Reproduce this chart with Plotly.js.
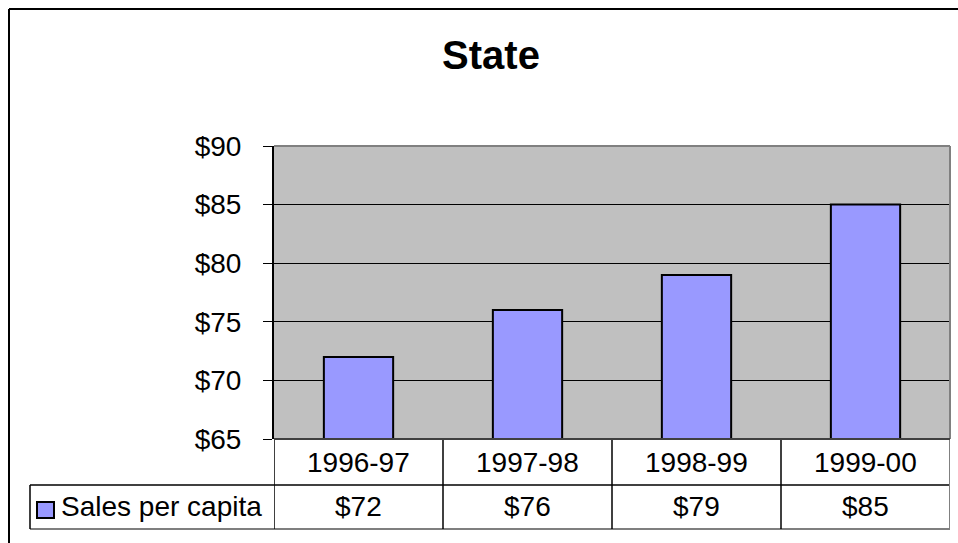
<!DOCTYPE html>
<html>
<head>
<meta charset="utf-8">
<script src="https://cdn.plot.ly/plotly-3.0.1.min.js"></script>
<style>
html,body{margin:0;padding:0;background:#fff;}
#chart{width:958px;height:543px;}
</style>
</head>
<body>
<div id="chart"></div>
<script>
const chartTitle = "State";
const seriesName = "Sales per capita";
const categories = ["1996-97", "1997-98", "1998-99", "1999-00"];
const salesPerCapita = [72, 76, 79, 85];
const yTickValues = [65, 70, 75, 80, 85, 90];

const FONT = "Liberation Sans, Arial, sans-serif";
const FS = 28;
const W = 958, H = 543;
const M = {l: 274, r: 8, t: 146, b: 104};
const PW = W - M.l - M.r, PH = H - M.t - M.b;
// pixel -> paper helpers (layout geometry only)
const px = x => (x - M.l) / PW;
const py = y => (H - M.b - y) / PH;

const trace = {
  type: "bar",
  x: categories,
  y: salesPerCapita,
  name: seriesName,
  width: 0.41,
  marker: {color: "#9999FF", line: {color: "#000000", width: 2}},
  hoverinfo: "skip",
  showlegend: false
};

const annotations = [];
categories.forEach((c, i) => {
  annotations.push({x: c, xref: "x", y: py(462), yref: "paper", text: c, showarrow: false,
    xanchor: "center", yanchor: "middle", font: {family: FONT, size: FS, color: "#000"}});
  annotations.push({x: c, xref: "x", y: py(507), yref: "paper", text: "$" + salesPerCapita[i], showarrow: false,
    xanchor: "center", yanchor: "middle", font: {family: FONT, size: FS, color: "#000"}});
});
annotations.push({x: px(59), xref: "paper", y: py(507), yref: "paper", text: seriesName, showarrow: false,
  xanchor: "left", yanchor: "middle", font: {family: FONT, size: FS, color: "#000"}});

const shapes = [];
const blk = {color: "#000000", width: 1.5};
// table horizontal lines
shapes.push({type: "line", xref: "paper", yref: "paper", x0: px(30), x1: 1, y0: py(485), y1: py(485), line: blk});
shapes.push({type: "line", xref: "paper", yref: "paper", x0: px(30), x1: 1, y0: py(529), y1: py(529), line: {color: "#555", width: 1.5}});
shapes.push({type: "line", xref: "paper", yref: "paper", x0: px(30), x1: px(30), y0: py(485), y1: py(529), line: blk});
// column boundaries at category edges
for (let i = 0; i <= categories.length; i++) {
  const xb = i - 0.5;
  shapes.push({type: "line", xref: "x", yref: "paper", x0: xb, x1: xb, y0: 0, y1: py(529),
    line: i === categories.length ? {color: "#808080", width: 2} : blk});
}
// plot area border (gray)
shapes.push({type: "line", xref: "paper", yref: "paper", x0: 0, x1: 1, y0: 1, y1: 1, line: {color: "#808080", width: 2}});
shapes.push({type: "line", xref: "paper", yref: "paper", x0: 1, x1: 1, y0: 0, y1: 1, line: {color: "#808080", width: 2}});
shapes.push({type: "line", xref: "paper", yref: "paper", x0: 0, x1: 1, y0: 0, y1: 0, line: {color: "#404040", width: 2}});
// legend key
shapes.push({type: "rect", xref: "paper", yref: "paper", x0: px(37), x1: px(54), y0: py(502), y1: py(518),
  fillcolor: "#9999FF", line: {color: "#000", width: 2}});
// outer chart border (left and top)
shapes.push({type: "line", xref: "paper", yref: "paper", x0: px(9), x1: px(9), y0: py(9), y1: py(545), line: {color: "#000", width: 2}});
shapes.push({type: "line", xref: "paper", yref: "paper", x0: px(9), x1: px(960), y0: py(9), y1: py(9), line: {color: "#000", width: 2}});

const layout = {
  width: W, height: H,
  margin: M,
  paper_bgcolor: "#ffffff",
  plot_bgcolor: "#C0C0C0",
  title: {text: "<b>" + chartTitle + "</b>", x: 491 / W, xref: "container", xanchor: "center",
    y: 1 - 55 / H, yref: "container", yanchor: "middle",
    font: {family: FONT, size: 40, color: "#000"}},
  xaxis: {type: "category", showticklabels: false, ticks: "", showgrid: false, zeroline: false,
    range: [-0.5, categories.length - 0.5], fixedrange: true},
  yaxis: {range: [65, 90], tickvals: yTickValues, ticktext: yTickValues.map(v => "$" + v),
    showgrid: true, gridcolor: "#000000", gridwidth: 1, zeroline: false,
    showline: true, linecolor: "#000000", linewidth: 2,
    ticks: "outside", ticklen: 9, tickcolor: "#000", tickwidth: 1,
    ticklabelstandoff: 16,
    tickfont: {family: FONT, size: FS, color: "#000"}, fixedrange: true},
  bargap: 0.59,
  showlegend: false,
  annotations: annotations,
  shapes: shapes
};

Plotly.newPlot("chart", [trace], layout, {displayModeBar: false, staticPlot: true});
</script>
</body>
</html>
